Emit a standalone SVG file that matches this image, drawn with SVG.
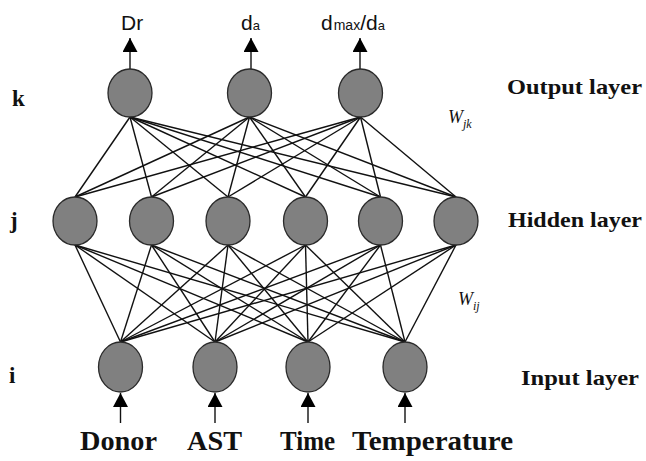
<svg xmlns="http://www.w3.org/2000/svg" width="646" height="461" viewBox="0 0 646 461">
<defs>
<style>
.node{fill:#808080;stroke:#2a2a2a;stroke-width:1.3}
.conn line{stroke:#111;stroke-width:1.4}
.io{stroke:#111;stroke-width:1.8}
.sans{font-family:"Liberation Sans",Arial,sans-serif;fill:#111}
.lbl{font-family:"Liberation Serif","Times New Roman",serif;font-weight:bold;fill:#111}
.w{font-family:"Liberation Serif","Times New Roman",serif;font-style:italic;fill:#111}
</style>
<marker id="ah" markerUnits="userSpaceOnUse" markerWidth="16" markerHeight="16" refX="14" refY="7.5" orient="auto">
<path d="M0,0 L14,7.5 L0,15 Z" fill="#000"/>
</marker>
</defs>
<rect width="646" height="461" fill="#fff"/>
<g id="connectors" class="conn">
<!-- output -> hidden -->
<line x1="130" y1="117" x2="75" y2="197"/><line x1="130" y1="117" x2="151.5" y2="197"/><line x1="130" y1="117" x2="228" y2="197"/><line x1="130" y1="117" x2="305.5" y2="197"/><line x1="130" y1="117" x2="380.5" y2="197"/><line x1="130" y1="117" x2="456" y2="197"/>
<line x1="249.5" y1="117" x2="75" y2="197"/><line x1="249.5" y1="117" x2="151.5" y2="197"/><line x1="249.5" y1="117" x2="228" y2="197"/><line x1="249.5" y1="117" x2="305.5" y2="197"/><line x1="249.5" y1="117" x2="380.5" y2="197"/><line x1="249.5" y1="117" x2="456" y2="197"/>
<line x1="360.5" y1="117" x2="75" y2="197"/><line x1="360.5" y1="117" x2="151.5" y2="197"/><line x1="360.5" y1="117" x2="228" y2="197"/><line x1="360.5" y1="117" x2="305.5" y2="197"/><line x1="360.5" y1="117" x2="380.5" y2="197"/><line x1="360.5" y1="117" x2="456" y2="197"/>
<!-- hidden -> input -->
<line x1="75" y1="245" x2="120.5" y2="342"/><line x1="75" y1="245" x2="215" y2="342"/><line x1="75" y1="245" x2="308" y2="342"/><line x1="75" y1="245" x2="405" y2="342"/>
<line x1="151.5" y1="245" x2="120.5" y2="342"/><line x1="151.5" y1="245" x2="215" y2="342"/><line x1="151.5" y1="245" x2="308" y2="342"/><line x1="151.5" y1="245" x2="405" y2="342"/>
<line x1="228" y1="245" x2="120.5" y2="342"/><line x1="228" y1="245" x2="215" y2="342"/><line x1="228" y1="245" x2="308" y2="342"/><line x1="228" y1="245" x2="405" y2="342"/>
<line x1="305.5" y1="245" x2="120.5" y2="342"/><line x1="305.5" y1="245" x2="215" y2="342"/><line x1="305.5" y1="245" x2="308" y2="342"/><line x1="305.5" y1="245" x2="405" y2="342"/>
<line x1="380.5" y1="245" x2="120.5" y2="342"/><line x1="380.5" y1="245" x2="215" y2="342"/><line x1="380.5" y1="245" x2="308" y2="342"/><line x1="380.5" y1="245" x2="405" y2="342"/>
<line x1="456" y1="245" x2="120.5" y2="342"/><line x1="456" y1="245" x2="215" y2="342"/><line x1="456" y1="245" x2="308" y2="342"/><line x1="456" y1="245" x2="405" y2="342"/>
<!-- outputs -->
<line class="io" x1="130" y1="69" x2="130" y2="38" marker-end="url(#ah)"/>
<line class="io" x1="251" y1="69" x2="251" y2="38" marker-end="url(#ah)"/>
<line class="io" x1="360" y1="69" x2="360" y2="38" marker-end="url(#ah)"/>
<!-- inputs -->
<line class="io" x1="120.5" y1="423" x2="120.5" y2="393" marker-end="url(#ah)"/>
<line class="io" x1="215" y1="423" x2="215" y2="393" marker-end="url(#ah)"/>
<line class="io" x1="308" y1="423" x2="308" y2="393" marker-end="url(#ah)"/>
<line class="io" x1="405" y1="423" x2="405" y2="393" marker-end="url(#ah)"/>
</g>
<g id="out-Dr"><ellipse class="node" cx="130" cy="93" rx="22" ry="24"/><text class="sans" x="121" y="30" font-size="21">Dr</text></g>
<g id="out-da"><ellipse class="node" cx="249.5" cy="93" rx="22" ry="24"/><text class="sans" x="241" y="30" font-size="21">d<tspan font-size="13">a</tspan></text></g>
<g id="out-dmax"><ellipse class="node" cx="360.5" cy="93" rx="22" ry="24"/><text class="sans" x="321" y="30" font-size="21">d<tspan font-size="14" dx="1">max</tspan>/d<tspan font-size="13">a</tspan></text></g>
<g id="h1"><ellipse class="node" cx="75" cy="221" rx="22" ry="24"/></g>
<g id="h2"><ellipse class="node" cx="151.5" cy="221" rx="22" ry="24"/></g>
<g id="h3"><ellipse class="node" cx="228" cy="221" rx="22" ry="24"/></g>
<g id="h4"><ellipse class="node" cx="305.5" cy="221" rx="22" ry="24"/></g>
<g id="h5"><ellipse class="node" cx="380.5" cy="221" rx="22" ry="24"/></g>
<g id="h6"><ellipse class="node" cx="456" cy="221" rx="22" ry="24"/></g>
<g id="in-Donor"><ellipse class="node" cx="120.5" cy="367" rx="22" ry="25"/><text class="lbl" x="80" y="450" font-size="27" textLength="77" lengthAdjust="spacingAndGlyphs">Donor</text></g>
<g id="in-AST"><ellipse class="node" cx="215" cy="367" rx="22" ry="25"/><text class="lbl" x="187" y="450" font-size="27" textLength="55" lengthAdjust="spacingAndGlyphs">AST</text></g>
<g id="in-Time"><ellipse class="node" cx="308" cy="367" rx="22" ry="25"/><text class="lbl" x="280" y="450" font-size="27" textLength="55" lengthAdjust="spacingAndGlyphs">Time</text></g>
<g id="in-Temperature"><ellipse class="node" cx="405" cy="367" rx="22" ry="25"/><text class="lbl" x="352" y="450" font-size="27" textLength="161" lengthAdjust="spacingAndGlyphs">Temperature</text></g>
<g id="labels">
<text class="lbl" x="12" y="106" font-size="23">k</text>
<text class="lbl" x="10" y="228" font-size="23">j</text>
<text class="lbl" x="9" y="383" font-size="23">i</text>
<text class="lbl" x="507" y="94" font-size="22" textLength="135" lengthAdjust="spacingAndGlyphs">Output layer</text>
<text class="lbl" x="508" y="227" font-size="22" textLength="134" lengthAdjust="spacingAndGlyphs">Hidden layer</text>
<text class="lbl" x="521" y="385" font-size="22" textLength="118" lengthAdjust="spacingAndGlyphs">Input layer</text>
<text class="w" x="448" y="123" font-size="18">W<tspan font-size="12" dy="5">jk</tspan></text>
<text class="w" x="458" y="305" font-size="18">W<tspan font-size="12" dy="5">ij</tspan></text>
</g>
</svg>
